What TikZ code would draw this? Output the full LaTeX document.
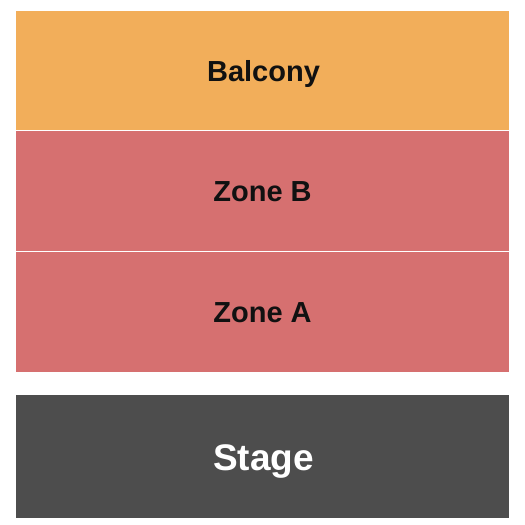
\documentclass[tikz,border=0pt]{standalone}
\usepackage{fontspec}
\setmainfont{Liberation Sans}
\definecolor{balc}{HTML}{F2AE5A}
\definecolor{zone}{HTML}{D67070}
\definecolor{stagec}{HTML}{4D4D4D}
\definecolor{txt}{HTML}{111111}
\begin{document}
\begin{tikzpicture}[x=1pt,y=-1pt,
  sect/.style={rectangle,inner sep=0pt,minimum width=493pt},
  lbl/.style={anchor=base,inner sep=0pt,font=\fontsize{29}{32}\selectfont\bfseries,text=txt},
  ]
\useasboundingbox[fill=white] (0,0) rectangle (525,525);
\node[sect,fill=balc,minimum height=119pt] (balcony) at (262.5,70.5) {};
\node[sect,fill=zone,minimum height=119.5pt] (zoneb) at (262.5,190.75) {};
\node[sect,fill=zone,minimum height=120pt] (zonea) at (262.5,312) {};
\node[sect,fill=stagec,minimum height=123pt] (stage) at (262.5,456.5) {};
\node[lbl] (tbalcony) at (263.5,81) {Balcony};
\node[lbl] (tzoneb) at (262.5,201.5) {Zone B};
\node[lbl] (tzonea) at (262.5,322.5) {Zone A};
\node[lbl,text=white,font=\fontsize{37}{40}\selectfont\bfseries] (tstage) at (263.5,470) {Stage};
\end{tikzpicture}
\end{document}
